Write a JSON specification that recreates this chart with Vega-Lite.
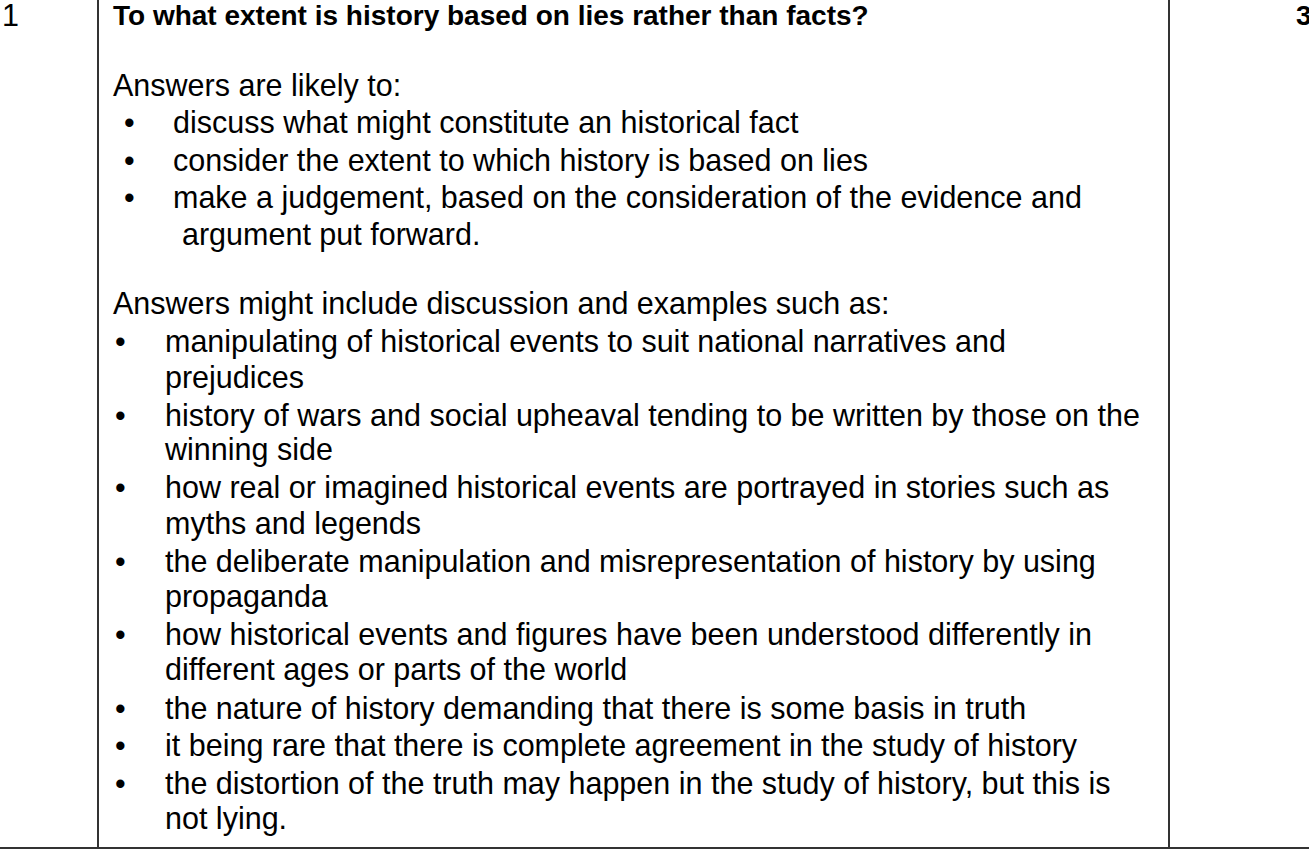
{
  "$schema": "https://vega.github.io/schema/vega-lite/v6.json",
  "width": 1309,
  "height": 850,
  "padding": 0,
  "autosize": "none",
  "background": "white",
  "config": {"view": {"stroke": null}},
  "encoding": {
    "x": {"field": "x", "type": "quantitative", "scale": {"domain": [0, 1309]}, "axis": null},
    "y": {"field": "y", "type": "quantitative", "scale": {"domain": [850, 0]}, "axis": null}
  },
  "layer": [
    {
      "data": {"values": [
        {"x": 98, "x2": 98, "y": 0, "y2": 848},
        {"x": 1169, "x2": 1169, "y": 0, "y2": 848},
        {"x": 0, "x2": 1309, "y": 848, "y2": 848}
      ]},
      "mark": {"type": "rule", "color": "#333", "strokeWidth": 2},
      "encoding": {"x2": {"field": "x2"}, "y2": {"field": "y2"}}
    },
    {
      "data": {"values": [
        {"x": 113, "y": 17, "t": "To what extent is history based on lies rather than facts?"},
        {"x": 1296, "y": 17, "t": "30"}
      ]},
      "mark": {"type": "text", "align": "left", "baseline": "middle", "font": "Liberation Sans", "fontSize": 28, "fontWeight": "bold", "color": "black"},
      "encoding": {"text": {"field": "t"}, "align": {"condition": {"test": "datum.t == '30'", "value": "right"}, "value": "left"}}
    },
    {
      "data": {"values": [
        {"x": 2, "y": 17, "t": "1"},
        {"x": 113, "y": 87, "t": "Answers are likely to:"},
        {"x": 173, "y": 124, "t": "discuss what might constitute an historical fact"},
        {"x": 173, "y": 162, "t": "consider the extent to which history is based on lies"},
        {"x": 173, "y": 199, "t": "make a judgement, based on the consideration of the evidence and"},
        {"x": 182, "y": 236, "t": "argument put forward."},
        {"x": 113, "y": 305, "t": "Answers might include discussion and examples such as:"},
        {"x": 165, "y": 343, "t": "manipulating of historical events to suit national narratives and"},
        {"x": 165, "y": 379, "t": "prejudices"},
        {"x": 165, "y": 417, "t": "history of wars and social upheaval tending to be written by those on the"},
        {"x": 165, "y": 451, "t": "winning side"},
        {"x": 165, "y": 489, "t": "how real or imagined historical events are portrayed in stories such as"},
        {"x": 165, "y": 525, "t": "myths and legends"},
        {"x": 165, "y": 563, "t": "the deliberate manipulation and misrepresentation of history by using"},
        {"x": 165, "y": 598, "t": "propaganda"},
        {"x": 165, "y": 636, "t": "how historical events and figures have been understood differently in"},
        {"x": 165, "y": 671, "t": "different ages or parts of the world"},
        {"x": 165, "y": 710, "t": "the nature of history demanding that there is some basis in truth"},
        {"x": 165, "y": 747, "t": "it being rare that there is complete agreement in the study of history"},
        {"x": 165, "y": 785, "t": "the distortion of the truth may happen in the study of history, but this is"},
        {"x": 165, "y": 820, "t": "not lying."},
        {"x": 124, "y": 124, "t": "•"},
        {"x": 124, "y": 162, "t": "•"},
        {"x": 124, "y": 199, "t": "•"},
        {"x": 115, "y": 343, "t": "•"},
        {"x": 115, "y": 417, "t": "•"},
        {"x": 115, "y": 489, "t": "•"},
        {"x": 115, "y": 563, "t": "•"},
        {"x": 115, "y": 636, "t": "•"},
        {"x": 115, "y": 710, "t": "•"},
        {"x": 115, "y": 747, "t": "•"},
        {"x": 115, "y": 785, "t": "•"}
      ]},
      "mark": {"type": "text", "align": "left", "baseline": "middle", "font": "Liberation Sans", "fontSize": 30.5, "color": "black"},
      "encoding": {"text": {"field": "t"}}
    }
  ]
}
